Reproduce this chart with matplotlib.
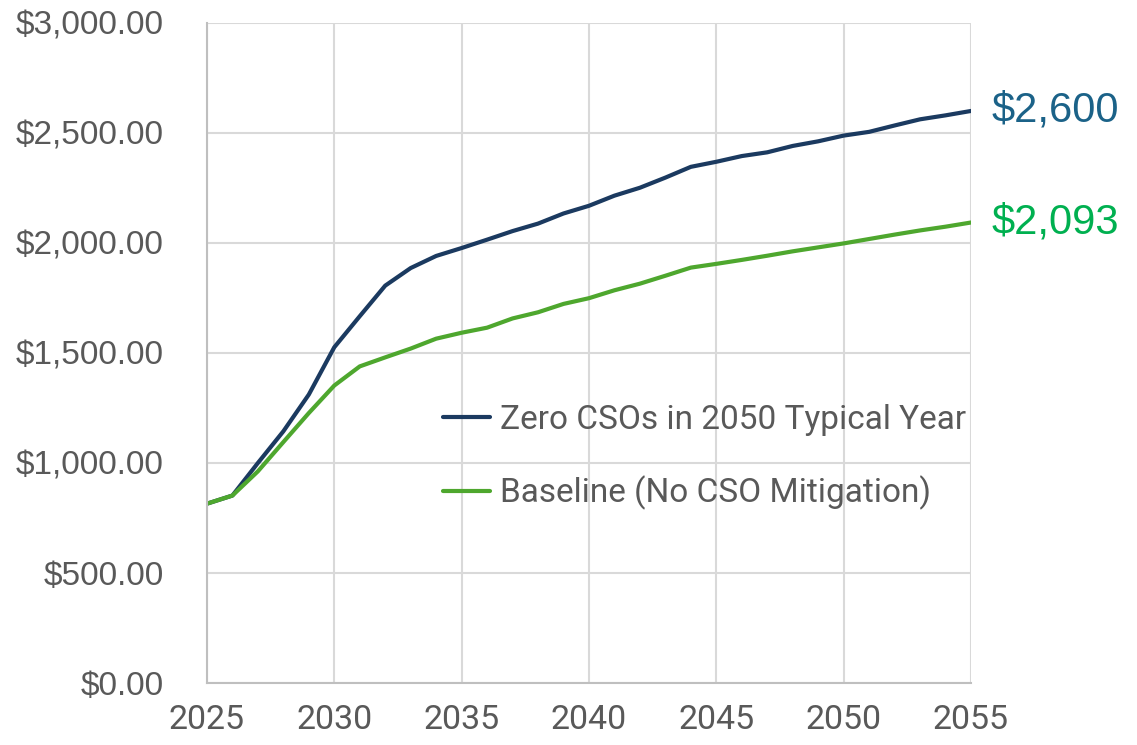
import matplotlib
matplotlib.use("Agg")
import matplotlib.pyplot as plt
from matplotlib.ticker import FuncFormatter

# ====== data ======
years = list(range(2025, 2056))
zero_cso = [815, 852, 1000, 1144, 1311, 1526, 1667, 1806, 1886, 1941,
            1977, 2015, 2054, 2088, 2134, 2169, 2215, 2251, 2297, 2346,
            2369, 2395, 2412, 2441, 2462, 2488, 2505, 2534, 2562, 2580, 2600]
baseline = [815, 852, 962, 1095, 1227, 1352, 1439, 1480, 1520, 1565,
            1592, 1615, 1657, 1685, 1723, 1749, 1785, 1815, 1851, 1888,
            1905, 1923, 1942, 1962, 1980, 1998, 2018, 2038, 2057, 2074, 2093]
series_names = ["Zero CSOs in 2050 Typical Year", "Baseline (No CSO Mitigation)"]
end_labels = ["$2,600", "$2,093"]
x_ticks = [2025, 2030, 2035, 2040, 2045, 2050, 2055]
y_ticks = [0, 500, 1000, 1500, 2000, 2500, 3000]

# ====== style ======
navy = "#1B3A60"
green = "#4EA72E"
label_blue = "#1B6288"
label_green = "#00B050"
grey_txt = "#595959"
arial = ["Liberation Sans", "DejaVu Sans"]
narrow = ["Roboto", "Liberation Sans", "DejaVu Sans"]

fig = plt.figure(figsize=(11.37, 7.45), dpi=100)
ax = fig.add_axes([0.182, 0.0832, 0.672, 0.886])

ax.plot(years, zero_cso, color=navy, lw=3, label=series_names[0], solid_capstyle="round")
ax.plot(years, baseline, color=green, lw=3, label=series_names[1], solid_capstyle="round")

ax.set_xlim(2025, 2055)
ax.set_ylim(0, 3000)
ax.set_xticks(x_ticks)
ax.set_yticks(y_ticks)
ax.yaxis.set_major_formatter(FuncFormatter(lambda v, p: f"${v:,.2f}"))
ax.grid(True, color="#D9D9D9", lw=1.5)
ax.set_axisbelow(True)
for side in ["top", "right"]:
    ax.spines[side].set_visible(False)
for side in ["left", "bottom"]:
    ax.spines[side].set_color("#BFBFBF")
    ax.spines[side].set_linewidth(1.5)
ax.tick_params(length=0)
ax.tick_params(axis="y", pad=31, labelsize=24, labelcolor=grey_txt)
ax.tick_params(axis="x", pad=15, labelcolor=grey_txt)
for lab in ax.get_yticklabels():
    lab.set_family(arial)
for lab in ax.get_xticklabels():
    lab.set_family(narrow)
    lab.set_fontsize(24.5)

# end value labels
ax.annotate(end_labels[0], (years[-1], zero_cso[-1]), xytext=(15, 0), textcoords="offset points",
            va="center", ha="left", fontsize=30, color=label_blue,
            family=arial, annotation_clip=False)
ax.annotate(end_labels[1], (years[-1], baseline[-1]), xytext=(15, 0), textcoords="offset points",
            va="center", ha="left", fontsize=30, color=label_green,
            family=arial, annotation_clip=False)

leg = ax.legend(loc="upper left", bbox_to_anchor=(0.309, 0.423), frameon=False,
                prop={"family": narrow, "size": 24}, handlelength=1.4,
                handletextpad=0.3, labelspacing=1.2, borderpad=0, borderaxespad=0)
for t in leg.get_texts():
    t.set_color(grey_txt)

plt.savefig("out.png", dpi=100)
